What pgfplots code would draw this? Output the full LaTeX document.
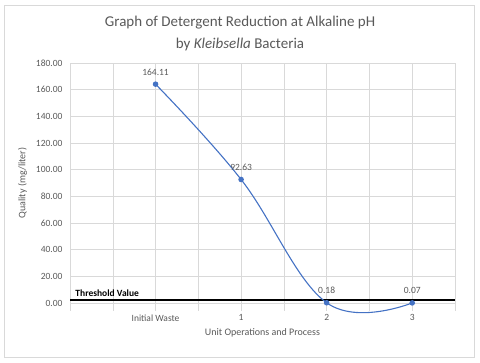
\documentclass[border=0pt]{standalone}
\usepackage{fontspec}
\setmainfont{Carlito}
\usepackage{pgfplots}
\pgfplotsset{compat=1.18}
\definecolor{txt}{HTML}{595959}
\definecolor{gridc}{HTML}{D9D9D9}
\definecolor{ser}{HTML}{4472C4}
\begin{document}
\begin{tikzpicture}
\path (0,0) rectangle (480pt,363pt);
\draw[gridc, line width=0.8pt] (4pt,6pt) rectangle (474pt,358pt);
\node[font=\fontsize{15}{22}\selectfont, text=txt, align=center] at (240pt,329pt)
  {Graph of Detergent Reduction at Alkaline pH\\by \textit{Kleibsella} Bacteria};
\begin{axis}[
    at={(70pt,60pt)}, anchor=south west,
    scale only axis, width=385pt, height=240pt,
    xmin=0, xmax=4.5, ymin=0, ymax=180,
    xtick={1,2,3,4}, xticklabels={Initial Waste,1,2,3},
    minor xtick={0,0.5,...,4.5},
    ytick={0,20,...,180},
    grid=both, major grid style={gridc}, minor grid style={gridc},
    axis y line*=left, axis x line*=bottom,
    y axis line style={draw=none},
    x axis line style={draw=none},
    tick style={draw=none},
    clip=false,
    every tick label/.append style={font=\fontsize{9.5}{11}\selectfont, text=txt},
    yticklabel style={xshift=-4pt, /pgf/number format/.cd, fixed, fixed zerofill, precision=2, assume math mode=true},
    xticklabel style={yshift=-8pt},
    xlabel={Unit Operations and Process}, ylabel={Quality (mg/liter)},
    label style={font=\fontsize{10}{12}\selectfont, text=txt},
    xlabel style={yshift=0pt},
    ylabel style={yshift=2pt},
    /pgf/number format/assume math mode=true,
]
% tick marks below the axis
\pgfplotsinvokeforeach{0,0.5,...,4.5}{
  \draw[gridc] (axis cs:#1,0) -- ++(0,-8pt);
}
\addplot[black, line width=2.4pt] coordinates {(0,2.2) (4.5,2.2)};
\node[font=\bfseries\fontsize{9.5}{11}\selectfont, anchor=south west, inner sep=1pt] at (axis cs:0.05,4) {Threshold Value};
\addplot[ser, line width=1.1pt, smooth, tension=0.65, mark=*, mark size=2.2pt,
  nodes near coords, point meta=explicit symbolic,
  every node near coord/.append style={font=\fontsize{9.5}{11}\selectfont, text=txt, yshift=5pt}]
  coordinates {(1,164.11)[164.11] (2,92.63)[92.63] (3,0.18)[0.18] (4,0.07)[0.07]};
\end{axis}
\end{tikzpicture}
\end{document}
